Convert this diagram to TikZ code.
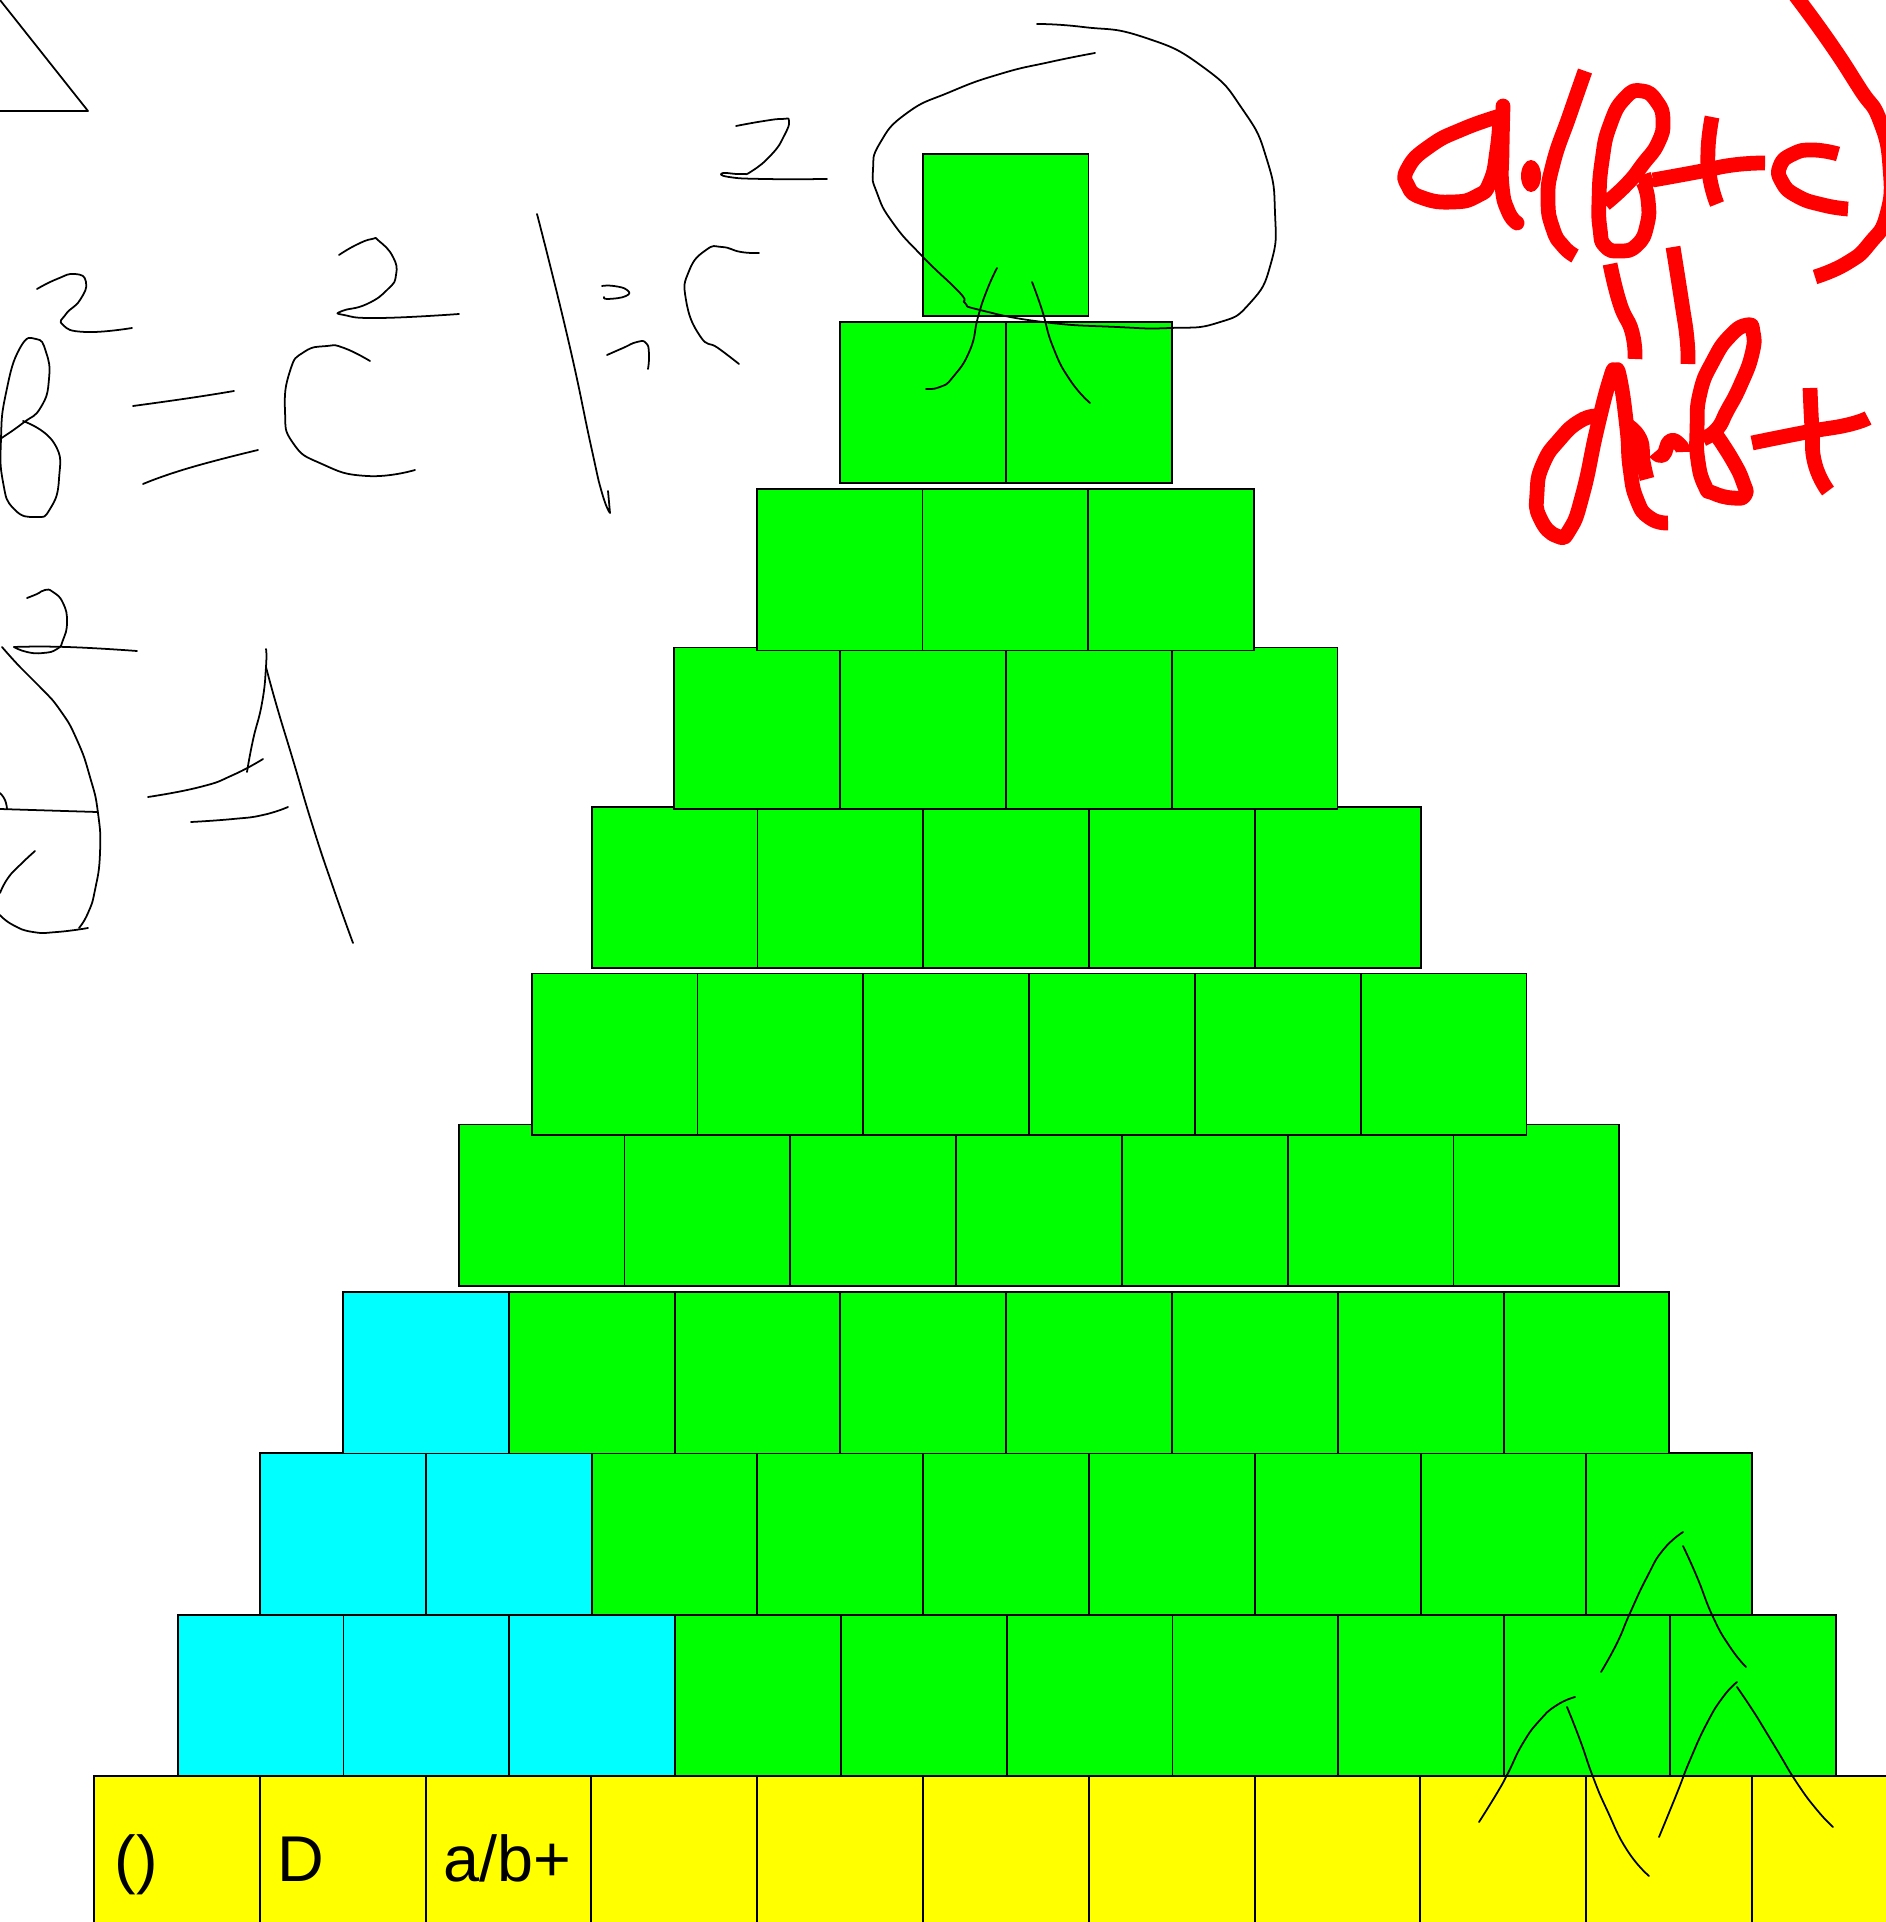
\documentclass[tikz,border=0pt]{standalone}
\usepackage{fontspec}
\setmainfont{Liberation Sans}
\usepackage{xcolor}
\definecolor{BlockGreen}{HTML}{00FF00}
\definecolor{BlockCyan}{HTML}{00FFFF}
\definecolor{BaseYellow}{HTML}{FFFF00}
\definecolor{InkRed}{HTML}{FF0000}

\begin{document}
\begin{tikzpicture}[x=0.01cm,y=-0.01cm,
  cell/.style={draw,line width=0.55pt,fill=BlockGreen},
  ink/.style={line width=0.5pt,line cap=round,line join=round},
  redink/.style={InkRed,line width=4.2pt,line join=round},
  sm/.style={smooth,tension=0.9},
  lbl/.style={anchor=base west,inner sep=0pt,font=\fontsize{18.4}{20}\selectfont}]
  \useasboundingbox (0,0) rectangle (1886,1922);
  \clip (0,0) rectangle (1886,1922);
  % base row
  \foreach \k in {0,...,10}
    \draw[cell,fill=BaseYellow] ({94+\k*165.8},1776) rectangle ++(165.8,200);
  \node[lbl] (lblParen) at (114,1881) {()};
  \node[lbl] (lblD)     at (277,1881) {D};
  \node[lbl] (lblExpr)  at (443,1881) {a/b+};
  % pyramid rows: left / top / cells / cyan cells
  \foreach \lx/\ty/\n/\nc in {177.7/1614.7/10/3, 260/1453.3/9/2, 343/1292/8/1,
      458.7/1124.5/7/0, 531.7/973.5/6/0, 591.7/806.7/5/0, 674.3/647.5/4/0,
      756.7/489/3/0, 840/321.7/2/0, 922.7/154.3/1/0}{
    \foreach \k in {1,...,\n}{
      \ifnum\k>\nc \def\fc{BlockGreen}\else\def\fc{BlockCyan}\fi
      \draw[cell,fill=\fc] ({\lx+(\k-1)*165.8},\ty) rectangle ++(165.8,161.5);
    }
  }
  % black scribbles, left
  \draw[ink] (0,0) -- (88,111) -- (0,111);
  \draw[ink] plot[sm] coordinates {(23,421) (54,443) (59,479) (50,509) (36,517)
    (14,509) (3,482) (1,439) (6,393) (20,348) (36,339) (46,352) (49,379) (41,407)
    (23,423) (0,439)};
  \draw[ink] plot[sm] coordinates {(37,289) (57,279) (75,274) (86,282) (80,300)
    (66,314) (63,325) (86,332) (132,328)};
  \draw[ink] plot[sm] coordinates {(133,406) (190,398) (234,391)};
  \draw[ink] plot[sm] coordinates {(143,484) (189,468) (258,450)};
  \draw[ink] plot[sm] coordinates {(370,361) (344,348) (327,346) (304,352) (290,371)
    (285,411) (293,443) (322,464) (367,476) (415,470)};
  \draw[ink] plot[sm] coordinates {(339,255) (356,245) (372,239) (379,241) (393,257)
    (396,275) (388,289) (367,304) (342,311) (344,315) (379,318) (459,314)};
  \draw[ink] plot[sm] coordinates {(537,214) (568,339) (591,446) (602,493) (610,513)}
    -- (608,491);
  \draw[ink] plot[sm] coordinates {(602,286) (614,286) (627,290) (626,296) (608,299)
    (604,297)};
  \draw[ink] plot[sm] coordinates {(607,355) (623,348) (637,342) (646,343) (649,354)
    (648,369)};
  \draw[ink] plot[sm] coordinates {(759,253) (741,252) (722,247) (706,250) (689,271)
    (686,300) (700,336) (718,348) (739,364)};
  \draw[ink] plot[sm] coordinates {(736,126) (764,121) (782,119) (789,121) (784,136)
    (772,154) (752,171) (741,174) (723,173) (729,177) (764,179) (827,179)};
  \draw[ink] plot[sm] coordinates {(27,598) (37,594) (45,590) (53,592) (63,603)
    (67,622) (63,640) (57,649) (43,653) (27,652) (14,647)};
  \draw[ink] plot[sm] coordinates {(14,647) (67,647) (137,651)};
  \draw[ink] plot[sm] coordinates {(2,647) (20,667) (40,687) (60,710) (77,740)
    (90,777) (98,813) (100,853) (95,890) (88,913) (79,928)};
  \draw[ink] (0,809) -- (97,812);
  \draw[ink] plot[sm] coordinates {(0,793) (5,800) (7,809)};
  \draw[ink] plot[sm] coordinates {(35,851) (20,865) (8,878) (0,893)};
  \draw[ink] plot[sm] coordinates {(0,915) (13,925) (33,932) (57,932) (88,928)};
  \draw[ink] plot[sm] coordinates {(266,649) (266,667) (262,703) (253,740) (247,772)};
  \draw[ink] plot[sm] coordinates {(266,667) (277,707) (293,760) (313,827) (333,887)
    (353,943)};
  \draw[ink] plot[sm] coordinates {(148,797) (200,787) (233,775) (263,759)};
  \draw[ink] plot[sm] coordinates {(191,822) (233,819) (263,815) (288,807)};
  % loop round the top block
  \draw[ink] plot[sm] coordinates {(1095,53) (1050,62) (1000,74) (950,92) (907,113)
    (880,143) (873,170) (877,193) (893,223) (923,257) (960,293) (965,303) (980,310)
    (1043,322) (1117,327) (1170,328) (1217,323) (1250,303) (1271,263) (1275,213)
    (1267,160) (1243,110) (1203,67) (1143,37) (1083,27) (1037,24)};
  \draw[ink] plot[sm] coordinates {(997,268) (987,290) (978,317) (970,350) (953,377)
    (940,387) (926,389)};
  \draw[ink] plot[sm] coordinates {(1032,282) (1042,310) (1053,347) (1070,380)
    (1090,403)};
  % bottom right carets
  \draw[ink] plot[sm] coordinates {(1683,1532) (1663,1550) (1647,1577) (1630,1613)
    (1617,1643) (1601,1672)};
  \draw[ink] plot[sm] coordinates {(1683,1546) (1697,1577) (1713,1617) (1730,1647)
    (1746,1667)};
  \draw[ink] plot[sm] coordinates {(1575,1697) (1557,1705) (1540,1720) (1523,1743)
    (1508,1773) (1497,1793) (1479,1822)};
  \draw[ink] plot[sm] coordinates {(1567,1707) (1580,1740) (1593,1777) (1607,1810)
    (1627,1850) (1649,1876)};
  \draw[ink] plot[sm] coordinates {(1737,1682) (1723,1697) (1707,1723) (1690,1760)
    (1677,1793) (1659,1837)};
  \draw[ink] plot[sm] coordinates {(1737,1687) (1757,1717) (1777,1750) (1797,1783)
    (1817,1810) (1833,1827)};
  % red formula
  \draw[redink] plot[sm] coordinates {(1500,116) (1463,129) (1430,146) (1408,168)
    (1408,186) (1423,198) (1453,202) (1477,196) (1490,182) (1497,150) (1500,116)};
  \draw[redink,line cap=round] plot[sm] coordinates {(1503,106) (1502,150) (1502,186)
    (1508,211) (1517,223)};
  \fill[InkRed] (1531,176) ellipse [x radius=0.1cm,y radius=0.16cm];
  \draw[redink] plot[sm] coordinates {(1585,71) (1570,114) (1553,164) (1548,200)
    (1553,229) (1563,246) (1575,256)};
  \draw[redink] plot[sm] coordinates {(1643,182) (1648,200) (1647,225) (1637,245)
    (1620,251) (1605,246) (1600,229) (1599,200) (1602,161) (1610,125) (1625,98)
    (1642,91) (1657,102) (1663,121) (1658,143) (1643,164) (1627,184) (1605,204)};
  \draw[redink] (1639,184) -- (1653,179);
  \draw[redink] plot[sm] coordinates {(1653,180) (1697,172) (1733,165) (1765,163)};
  \draw[redink] plot[sm] coordinates {(1712,117) (1708,150) (1710,179) (1717,204)};
  \draw[redink] plot[sm] coordinates {(1838,154) (1813,150) (1793,154) (1780,166)
    (1782,182) (1797,196) (1823,205) (1848,209)};
  \draw[redink] plot[sm] coordinates {(1795,-5) (1830,43) (1860,89) (1880,121)
    (1890,168) (1887,214) (1870,243) (1847,263) (1815,277)};
  \draw[redink] plot[sm] coordinates {(1610,264) (1620,304) (1632,332) (1635,359)};
  \draw[redink] plot[sm] coordinates {(1673,247) (1682,304) (1687,339) (1688,364)};
  \draw[redink] plot[sm] coordinates {(1597,416) (1580,421) (1560,439) (1543,464)
    (1537,493) (1540,518) (1557,536) (1570,529) (1583,493) (1597,429) (1610,379)
    (1615,371) (1620,379) (1627,429) (1630,468) (1637,500) (1650,518) (1668,523)};
  \draw[redink] plot[sm] coordinates {(1627,425) (1640,439) (1643,461) (1647,479)};
  \draw[redink] plot[sm] coordinates {(1655,452) (1663,455) (1670,441) (1680,445)
    (1683,452)};
  \draw[redink] plot[sm] coordinates {(1717,436) (1733,461) (1743,482) (1745,495)
    (1733,498) (1713,493) (1705,486) (1698,461) (1697,429) (1700,393) (1713,361)
    (1730,336) (1747,325) (1753,332) (1752,354) (1740,386) (1727,411) (1717,429)
    (1703,439)};
  \draw[redink] plot[sm] coordinates {(1752,443) (1807,432) (1847,425) (1868,418)};
  \draw[redink] plot[sm] coordinates {(1810,388) (1812,429) (1815,464) (1828,491)};
\end{tikzpicture}
\end{document}
